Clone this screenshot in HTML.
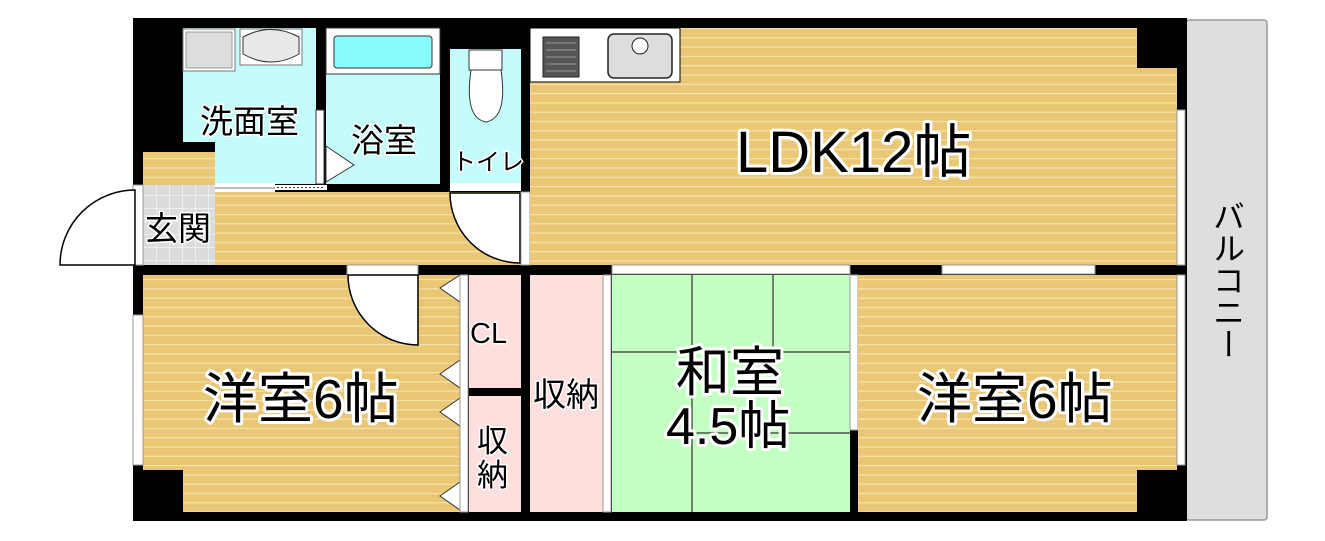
<!DOCTYPE html>
<html><head><meta charset="utf-8"><style>
html,body{margin:0;padding:0;background:#fff;}
svg{display:block;}
.lbl{font-family:"Liberation Sans","Noto Sans CJK JP",sans-serif;fill:#000;stroke:#fff;stroke-width:6px;paint-order:stroke;stroke-linejoin:round;}
.sm{font-family:"Liberation Sans","Noto Sans CJK JP",sans-serif;fill:#000;stroke:#fff;stroke-width:3px;paint-order:stroke;}
</style></head><body>
<svg width="1325" height="541" viewBox="0 0 1325 541" xmlns="http://www.w3.org/2000/svg">
<defs>
<pattern id="wood" width="10" height="9.3" patternUnits="userSpaceOnUse">
<rect width="10" height="9.3" fill="#E9C774"/><rect y="0" width="10" height="1.2" fill="#F6E2B0"/>
</pattern>
<pattern id="tile" width="13" height="13" patternUnits="userSpaceOnUse">
<rect width="13" height="13" fill="#DCDCDC"/><path d="M0 0H13M0 0V13" stroke="#fff" stroke-width="1"/>
</pattern>
</defs>
<rect x="1186" y="20" width="81" height="500" fill="#DEDEDE" stroke="#999" stroke-width="1.5" rx="3"/>
<text class="sm" x="1227" y="200" font-size="32" writing-mode="tb" style="stroke-width:0">バルコニー</text>
<rect x="133" y="18" width="1054" height="503" fill="#000"/>
<rect x="183" y="28" width="133" height="156" fill="#C4FCFC"/>
<rect x="143" y="142" width="72" height="42" fill="#000"/>
<rect x="143" y="152" width="72" height="33" fill="url(#wood)"/>
<rect x="143" y="185" width="72" height="80" fill="url(#tile)"/>
<rect x="183" y="29" width="52" height="42" fill="#fff" stroke="#777"/>
<rect x="186" y="32" width="46" height="36" fill="#ddd" stroke="#999"/>
<rect x="240" y="29" width="62" height="36" fill="#fff" stroke="#777"/>
<path d="M243 37 Q271 22 299 37 V54 Q271 70 243 54Z" fill="#E8E8E8" stroke="#333"/>
<rect x="326" y="28" width="114" height="156" fill="#C4FCFC"/>
<rect x="326" y="28" width="114" height="46" fill="#fff" stroke="#333"/>
<rect x="334" y="36" width="98" height="32" rx="3" fill="#88FCFC" stroke="#333"/>
<rect x="316" y="110" width="8" height="74" fill="#fff" stroke="#333"/>
<path d="M326 146 L354 165 L326 182Z" fill="#fff" stroke="#333"/>
<rect x="450" y="49" width="71" height="134" fill="#C4FCFC"/>
<rect x="469" y="50" width="33" height="20" fill="#fff" stroke="#333"/>
<path d="M471 70 Q464 118 486 122 Q508 118 501 70Z" fill="#fff" stroke="#333"/>
<rect x="215" y="192" width="315" height="73" fill="url(#wood)"/>
<rect x="215" y="183" width="60" height="9" fill="#fff"/>
<line x1="215" y1="188" x2="275" y2="188" stroke="#777"/>
<rect x="275" y="185" width="52" height="5" fill="#fff"/><path d="M277 187.5H325" stroke="#333" stroke-dasharray="2 2"/>
<rect x="450" y="183" width="71" height="8" fill="#fff"/>
<path d="M450 193 A70 70 0 0 0 520 263 V193Z" fill="#fff" stroke="#000" stroke-width="1.5"/>
<path d="M530 193 A70 70 0 0 1 600 263 H530Z" fill="#fff" stroke="#000" stroke-width="1.5"/>
<rect x="521" y="192" width="9" height="73" fill="#fff" stroke="#999"/>
<rect x="133" y="185" width="10" height="80" fill="#fff" stroke="#999"/>
<path d="M135 190 A75 75 0 0 0 60 265 H135Z" fill="#fff" stroke="#000" stroke-width="1.5"/>
<rect x="530" y="28" width="607" height="237" fill="url(#wood)"/>
<rect x="1137" y="68" width="40" height="197" fill="url(#wood)"/>
<rect x="530" y="28" width="150" height="54" fill="#fff" stroke="#000"/>
<rect x="543" y="37" width="36" height="40" fill="#555" stroke="#222"/>
<path d="M546 43h30M546 50h30M546 57h30M546 64h30M546 71h30" stroke="#999"/>
<rect x="608" y="34" width="64" height="44" rx="6" fill="#ddd" stroke="#222" stroke-width="1.5"/>
<circle cx="640" cy="46" r="8" fill="#fff" stroke="#222"/>
<rect x="1177" y="110" width="8" height="155" fill="#fff" stroke="#999"/>
<text class="lbl" x="736" y="172" font-size="58">LDK12帖</text>
<rect x="143" y="275" width="317" height="237" fill="url(#wood)"/>
<rect x="133" y="470" width="50" height="51" fill="#000"/>
<rect x="133" y="315" width="10" height="150" fill="#fff" stroke="#999"/>
<rect x="347" y="265" width="71" height="10" fill="#fff" stroke="#999"/>
<path d="M348 275 A70 70 0 0 0 418 345 V275Z" fill="#fff" stroke="#000" stroke-width="1.5"/>
<g fill="#fff" stroke="#333"><path d="M460 275 L440 288 L460 302Z"/><path d="M460 360 L440 374 L460 388Z"/><path d="M460 398 L440 412 L460 426Z"/><path d="M460 482 L440 496 L460 510Z"/></g>
<rect x="460" y="275" width="8" height="237" fill="#fff" stroke="#999"/>
<text class="lbl" x="203" y="418" font-size="55">洋室6帖</text>
<rect x="469" y="275" width="52" height="113" fill="#FFDEDE"/>
<rect x="469" y="396" width="52" height="116" fill="#FFDEDE"/>
<rect x="530" y="275" width="73" height="237" fill="#FFDEDE"/>
<rect x="603" y="275" width="8" height="237" fill="#fff" stroke="#999"/>
<text class="sm" x="470" y="343" font-size="29">CL</text>
<text class="sm" x="477" y="452" font-size="31">収</text>
<text class="sm" x="477" y="486" font-size="31">納</text>
<text class="sm" x="533" y="406" font-size="33">収納</text>
<rect x="612" y="275" width="238" height="237" fill="#C4FFC4"/>
<path d="M612 352H850M692 275V512M773 275V352M692 433H850" stroke="#333" stroke-width="1.2"/>
<rect x="612" y="265" width="238" height="9" fill="#fff" stroke="#999"/>
<rect x="850" y="275" width="8" height="155" fill="#fff" stroke="#999"/>
<text class="lbl" x="676" y="391" font-size="54">和室</text>
<text class="lbl" x="666" y="444" font-size="52">4.5帖</text>
<rect x="858" y="275" width="319" height="237" fill="url(#wood)"/>
<rect x="1137" y="470" width="50" height="51" fill="#000"/>
<rect x="1137" y="18" width="50" height="50" fill="#000"/>
<rect x="942" y="265" width="153" height="9" fill="#fff" stroke="#999"/>
<rect x="1177" y="275" width="8" height="190" fill="#fff" stroke="#999"/>
<text class="lbl" x="917" y="418" font-size="55">洋室6帖</text>
<text class="sm" x="200" y="133" font-size="33">洗面室</text>
<text class="sm" x="351" y="152" font-size="33">浴室</text>
<text class="sm" x="452" y="170" font-size="24">トイレ</text>
<text class="sm" x="145" y="240" font-size="33">玄関</text>
</svg>
</body></html>
